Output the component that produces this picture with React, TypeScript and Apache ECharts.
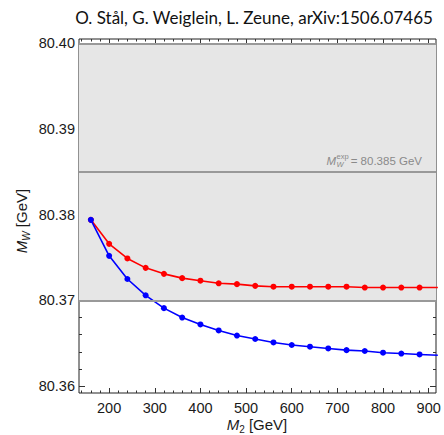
import React, { useEffect, useRef } from "react";
import * as echarts from "echarts";

const massM2 = [160, 200, 240, 280, 320, 360, 400, 440, 480, 520, 560, 600, 640, 680, 720, 760, 800, 840, 880, 920];
const mwRed = [80.3794, 80.3766, 80.3749, 80.3738, 80.3731, 80.3726, 80.3723, 80.372, 80.3719, 80.3717, 80.3716, 80.3716, 80.3716, 80.3716, 80.3716, 80.3715, 80.3715, 80.3715, 80.3715, 80.3715];
const mwBlue = [80.3794, 80.3752, 80.3725, 80.3706, 80.3691, 80.368, 80.3672, 80.3665, 80.3659, 80.3655, 80.3651, 80.3648, 80.3646, 80.3644, 80.3642, 80.3641, 80.3639, 80.3638, 80.3637, 80.3636];
const xMajorTicks = [200, 300, 400, 500, 600, 700, 800, 900];
const xMinorTicks = [140, 160, 180, 220, 240, 260, 280, 320, 340, 360, 380, 420, 440, 460, 480, 520, 540, 560, 580, 620, 640, 660, 680, 720, 740, 760, 780, 820, 840, 860, 880, 900];
const yMajorTicks = [80.36, 80.37, 80.38, 80.39, 80.4];
const yMinorTicks = [80.362, 80.364, 80.366, 80.368, 80.372, 80.374, 80.376, 80.378, 80.382, 80.384, 80.386, 80.388, 80.392, 80.394, 80.396, 80.398];
const bandLow = 80.37;
const bandHigh = 80.4;
const mwExp = 80.385;
const xRange = [134, 916];
const yRange = [80.3592, 80.4005];

const FONT = "'Liberation Sans', Arial, sans-serif";

export default function App() {
  const ref = useRef<HTMLDivElement>(null);
  useEffect(() => {
    if (!ref.current) return;
    const chart = echarts.init(ref.current, null, { renderer: "svg" });
    const mkX = (pos: string, vals: number[], len: number, labels: boolean) => ({
      type: "value",
      position: pos,
      min: xRange[0],
      max: xRange[1],
      axisLine: { show: false },
      splitLine: { show: false },
      axisTick: { show: true, inside: true, length: len, customValues: vals, lineStyle: { color: "#333", width: 1 } },
      axisLabel: labels
        ? { show: true, customValues: vals, fontSize: 14.5, fontFamily: FONT, color: "#1a1a1a", margin: 7 }
        : { show: false },
    });
    const mkY = (pos: string, vals: number[], len: number, labels: boolean) => ({
      type: "value",
      position: pos,
      min: yRange[0],
      max: yRange[1],
      axisLine: { show: false },
      splitLine: { show: false },
      axisTick: { show: true, inside: true, length: len, customValues: vals, lineStyle: { color: "#333", width: 1 } },
      axisLabel: labels
        ? {
            show: true,
            customValues: vals,
            fontSize: 14.5,
            fontFamily: FONT,
            color: "#1a1a1a",
            margin: 4,
            formatter: (v: number) => v.toFixed(2),
          }
        : { show: false },
    });
    const lineStyle = { color: "#999999", width: 2 };
    chart.setOption({
      animation: false,
      grid: { left: 79, right: 8, top: 39, bottom: 42, show: true, borderColor: "#222", borderWidth: 1, backgroundColor: "#fff" },
      xAxis: [
        mkX("bottom", xMajorTicks, 5, true),
        mkX("bottom", xMinorTicks, 2.5, false),
        mkX("top", xMajorTicks, 5, false),
        mkX("top", xMinorTicks, 2.5, false),
      ],
      yAxis: [
        mkY("left", yMajorTicks, 6, true),
        mkY("left", yMinorTicks, 3, false),
        mkY("right", yMajorTicks, 6, false),
        mkY("right", yMinorTicks, 3, false),
      ],
      series: [
        {
          type: "line",
          z: 1,
          data: [],
          silent: true,
          markArea: {
            silent: true,
            itemStyle: { color: "#e6e6e6" },
            data: [[{ yAxis: bandLow }, { yAxis: bandHigh }]],
          },
          markLine: {
            silent: true,
            symbol: "none",
            precision: 5,
            lineStyle: { ...lineStyle, type: "solid" },
            label: { show: false },
            data: [{ yAxis: bandLow }, { yAxis: mwExp }, { yAxis: bandHigh }],
          },
        },
        {
          type: "line",
          z: 3,
          data: massM2.map((m, i) => [m, mwRed[i]]),
          color: "#ff0000",
          lineStyle: { color: "#ff0000", width: 1.6 },
          symbol: "circle",
          symbolSize: 6,
          showSymbol: true,
          itemStyle: { color: "#ff0000" },
          clip: true,
        },
        {
          type: "line",
          z: 4,
          data: massM2.map((m, i) => [m, mwBlue[i]]),
          lineStyle: { color: "#0000ff", width: 1.6 },
          symbol: "circle",
          symbolSize: 6,
          showSymbol: true,
          itemStyle: { color: "#0000ff" },
          clip: true,
        },
      ],
    });
    let pt = chart.convertToPixel({ gridIndex: 0 }, [xRange[1], mwExp]) as number[];
    if (!pt || !isFinite(pt[0]) || !isFinite(pt[1])) pt = [436, 171.7];
    const xEnd = pt[0];
    const yExp = pt[1];
    const annColor = "#8a8a8a";
    const eqRight = xEnd - 14;
    const mRight = eqRight - 73 - 13;
    chart.setOption({
      graphic: [
        {
          type: "text",
          x: 254,
          y: 17,
          style: {
            text: "O. Stål, G. Weiglein, L. Zeune, arXiv:1506.07465",
            font: "17px Lato, sans-serif",
            fill: "#111",
            align: "center",
            verticalAlign: "middle",
          },
        },
        {
          type: "text",
          x: 21,
          y: 221,
          rotation: Math.PI / 2,
          style: {
            text: "{m|M}{s|W}{n| [GeV]}",
            align: "center",
            verticalAlign: "middle",
            fill: "#1a1a1a",
            rich: {
              m: { fontSize: 15, fontStyle: "italic", fontFamily: FONT, lineHeight: 20, verticalAlign: "middle" },
              s: { fontSize: 10, fontStyle: "italic", fontFamily: FONT, lineHeight: 12, verticalAlign: "bottom" },
              n: { fontSize: 15, fontFamily: FONT, lineHeight: 20, verticalAlign: "middle" },
            },
          },
        },
        {
          type: "text",
          x: 257,
          y: 424,
          style: {
            text: "{m|M}{s|2}{n| [GeV]}",
            align: "center",
            verticalAlign: "middle",
            fill: "#1a1a1a",
            rich: {
              m: { fontSize: 15, fontStyle: "italic", fontFamily: FONT, lineHeight: 20, verticalAlign: "middle" },
              s: { fontSize: 10, fontFamily: FONT, lineHeight: 12, verticalAlign: "bottom" },
              n: { fontSize: 15, fontFamily: FONT, lineHeight: 20, verticalAlign: "middle" },
            },
          },
        },
        {
          type: "text",
          z: 10,
          x: eqRight,
          y: yExp - 11,
          style: { text: "= 80.385 GeV", font: `11.5px ${FONT}`, fill: annColor, align: "right", verticalAlign: "middle" },
        },
        {
          type: "text",
          z: 10,
          x: mRight,
          y: yExp - 11,
          style: { text: "M", font: `italic 11.5px ${FONT}`, fill: annColor, align: "right", verticalAlign: "middle" },
        },
        {
          type: "text",
          z: 10,
          x: mRight + 0.5,
          y: yExp - 15.5,
          style: { text: "exp", font: `7.5px ${FONT}`, fill: annColor, align: "left", verticalAlign: "middle" },
        },
        {
          type: "text",
          z: 10,
          x: mRight + 0.5,
          y: yExp - 7,
          style: { text: "W", font: `italic 7.5px ${FONT}`, fill: annColor, align: "left", verticalAlign: "middle" },
        },
      ],
    });
    return () => chart.dispose();
  }, []);
  return <div ref={ref} style={{ width: 444, height: 435, position: "absolute", left: 0, top: 0 }} />;
}
